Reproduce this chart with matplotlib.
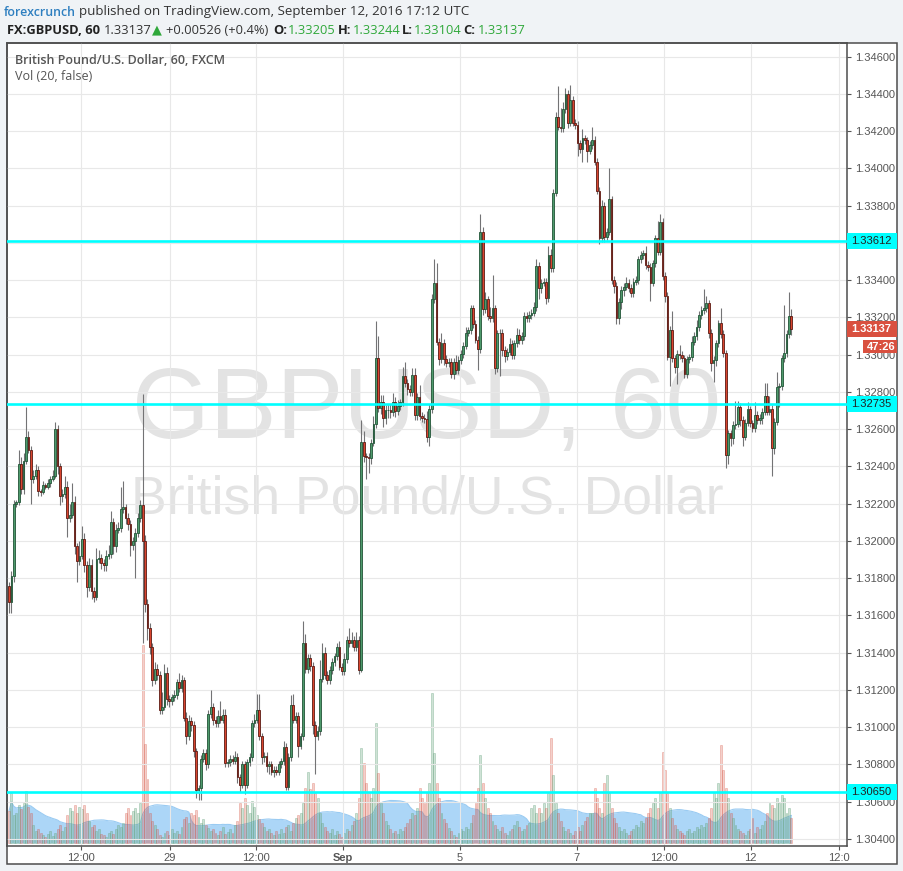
import numpy as np
import pandas as pd
import matplotlib
matplotlib.use("Agg")
import matplotlib.pyplot as plt
from matplotlib.patches import Rectangle
from matplotlib import transforms

W, H = 904, 871

# hourly GBPUSD candles, prices in pips above 1.30000
first_open = 176
close_pips = [
    167, 181, 220, 221, 241, 228, 243, 256, 249, 233,
    235, 238, 227, 226, 230, 229, 231, 233, 235, 260,
    240, 224, 225, 229, 212, 214, 221, 197, 189, 192,
    201, 187, 175, 187, 173, 170, 190, 191, 188, 187,
    192, 193, 210, 197, 206, 207, 217, 218, 212, 209,
    198, 200, 204, 212, 219, 200, 166, 153, 143, 125,
    131, 128, 109, 111, 129, 115, 114, 116, 117, 124,
    121, 125, 105, 95, 103.5, 101, 87, 66, 67, 83,
    86, 80, 107, 111, 104, 102, 106, 104, 106.5, 80.6,
    81, 83, 82, 84, 73, 69, 80, 69, 81, 84,
    102, 104, 109, 95, 84, 84.5, 79, 80, 76, 77,
    76, 80, 81.5, 89.5, 68, 84, 112, 104, 106, 90,
    95, 145, 131, 137, 133, 101, 95, 97.6, 126, 140,
    128, 125, 130.7, 135, 138, 143, 132.5, 130, 136.5, 147,
    145, 147, 143, 147, 130.7, 253, 245.3, 245, 244.4, 252.8,
    262.8, 298, 271.3, 274.3, 266, 270, 270.4, 269, 274.3, 269.5,
    272.5, 274.3, 288.3, 284.7, 281.5, 279.7, 289, 267.7, 277.5, 267,
    266, 265.5, 256, 270.7, 329.8, 338.4, 307, 297.6, 306.5, 297.6,
    295.4, 296, 289.7, 296, 291.8, 297, 300.4, 304.8, 311.8, 313,
    324.9, 316.5, 308, 302.8, 365.7, 324.3, 329.7, 320.7, 319.5, 324.9,
    292.6, 311.4, 311.8, 302.5, 299.3, 301.6, 305.7, 299.8, 306, 310.5,
    307.9, 310, 320.7, 319.5, 321.3, 322.5, 325.4, 347.6, 336, 338.6,
    339, 330.2, 353.5, 346.3, 387, 427.5, 422.5, 421.6, 431.8, 440,
    424.6, 436.8, 424.6, 423.4, 413.5, 410.3, 416.2, 415, 409.6, 412.6,
    415.3, 403.7, 388, 362.5, 380, 363.4, 366, 383.4, 340, 336.9,
    319.5, 328.5, 334.7, 336.5, 338.7, 335.8, 333, 339.2, 340, 351.2,
    353.5, 354.4, 348.2, 347, 338.7, 349, 362.5, 355.3, 371.4, 342.2,
    331.5, 298.9, 313.2, 298, 293.2, 300.3, 299.8, 298, 289.6, 297.5,
    298.6, 307, 310, 314.7, 321.3, 324, 325, 327.6, 311.8, 295.3,
    297.1, 306, 316.8, 311.1, 300.7, 246, 257.7, 255, 262.2, 263,
    272, 264.9, 256, 263.5, 270.6, 263.1, 260.4, 267.6, 264.9, 266,
    269.4, 277.8, 269.4, 271, 249.7, 264, 282.8, 283, 298, 300.7,
    311.1, 320.5, 313.7,
]
upper_wick = [
    2, 3, 2, 1, 8, 4, 4, 16, 3, 2,
    3, 3, 2, 1, 2, 1, 2, 2, 3, 4,
    2, 2, 3, 6, 3, 6, 10, 3, 2, 8,
    7, 3, 2, 4, 3, 2, 6, 4, 2, 2,
    3, 5, 6, 2, 3, 3, 12, 14, 2, 3,
    2, 2, 3, 3, 3, 60, 3, 3, 3, 2,
    4, 3, 2, 8, 5, 3, 2, 2, 3, 2,
    5, 3, 2, 3, 3, 2, 2, 2, 2, 2,
    2, 2, 2, 9, 2, 2, 3, 8, 3, 3,
    2, 2, 2, 3, 2, 2, 2, 2, 2, 2,
    2, 3, 9, 9, 2, 2, 2, 2, 2, 2,
    2, 2, 2, 3, 2, 2, 5, 6, 2, 2,
    2, 12, 5, 2, 2, 2, 2, 3, 10, 5,
    3, 2, 2, 2, 2, 2, 3, 2, 3, 2,
    6, 4, 2, 4, 2, 12, 6, 2, 2, 2,
    4, 20, 12, 4, 4, 3, 3, 3, 5, 3,
    3, 2, 5, 8, 2, 2, 4, 4, 2, 6,
    2, 2, 4, 3, 3, 13, 11, 2, 5, 2,
    2, 2, 2, 2, 4, 2, 2, 2, 3, 2,
    2, 2, 2, 2, 10, 3, 4, 2, 5, 18,
    2, 2, 2, 2, 2, 2, 3, 2, 2, 4,
    3, 2, 2, 2, 2, 2, 3, 4, 2, 2,
    2, 2, 5, 3, 2, 3, 17, 10, 4, 3,
    2, 8, 2, 2, 2, 2, 5, 2, 2, 2,
    7, 2, 2, 2, 3, 2, 2, 17, 2, 2,
    2, 2, 2, 2, 3, 2, 2, 2, 2, 2,
    2, 2, 4, 2, 2, 2, 2, 9, 4, 2,
    2, 2, 2, 10, 2, 2, 5, 2, 2, 2,
    2, 3, 2, 4, 2, 2, 10, 4, 2, 2,
    2, 2, 2, 8, 2, 2, 2, 2, 2, 12,
    3, 2, 2, 2, 4, 2, 2, 7, 2, 2,
    2, 7, 7, 7, 2, 2, 8, 2, 2, 26,
    2, 13, 4,
]
lower_wick = [
    6, 6, 3, 2, 2, 3, 3, 2, 2, 13,
    2, 2, 3, 2, 1, 1, 1, 2, 1, 1,
    4, 5, 3, 2, 10, 2, 2, 4, 11, 2,
    2, 4, 5, 2, 4, 3, 2, 2, 3, 3,
    3, 2, 2, 4, 3, 2, 2, 2, 3, 3,
    6, 3, 20, 2, 2, 55, 4, 6, 4, 3,
    2, 3, 2, 2, 2, 3, 3, 2, 2, 2,
    2, 2, 2, 4, 2, 3, 3, 4, 5, 6,
    2, 3, 2, 2, 3, 2, 2, 2, 2, 2,
    2, 2, 2, 2, 3, 4, 2, 5, 2, 2,
    2, 2, 2, 2, 4, 3, 3, 4, 2, 3,
    2, 2, 2, 2, 2, 2, 2, 2, 2, 6,
    2, 2, 2, 2, 3, 5, 20, 2, 2, 2,
    2, 2, 2, 2, 2, 2, 2, 2, 2, 2,
    2, 2, 2, 2, 2, 1, 3, 12, 8, 3,
    2, 2, 2, 3, 5, 3, 4, 3, 2, 3,
    2, 2, 2, 2, 3, 2, 2, 3, 3, 2,
    2, 2, 3, 5, 2, 2, 2, 3, 2, 3,
    2, 2, 2, 3, 2, 2, 2, 2, 2, 2,
    2, 2, 2, 11, 2, 3, 2, 2, 2, 2,
    3, 2, 23, 3, 3, 2, 2, 2, 2, 2,
    2, 2, 2, 2, 2, 2, 2, 2, 6, 3,
    2, 3, 2, 2, 2, 2, 2, 2, 2, 2,
    3, 2, 2, 2, 7, 2, 7, 2, 6, 2,
    2, 2, 2, 3, 2, 3, 2, 2, 2, 4,
    3, 3, 4, 3, 2, 2, 2, 2, 2, 2,
    2, 2, 2, 2, 10, 2, 2, 2, 2, 2,
    3, 2, 16, 2, 3, 9, 2, 2, 2, 2,
    2, 2, 2, 2, 2, 2, 2, 2, 3, 4,
    10, 3, 2, 2, 2, 7, 5, 4, 3, 2,
    2, 3, 5, 2, 2, 2, 2, 2, 2, 2,
    3, 2, 2, 2, 15, 3, 2, 11, 2, 2,
    2, 2, 3,
]
volume = [
    32, 50, 28, 30, 38, 34, 40, 52, 36, 30,
    18, 12, 14, 10, 8, 6, 9, 12, 7, 10,
    14, 18, 12, 16, 28, 35, 32, 38, 30, 36,
    34, 38, 30, 22, 16, 18, 12, 14, 9, 8,
    6, 10, 12, 9, 14, 18, 16, 20, 30, 35,
    28, 32, 35, 30, 40, 198, 99, 64, 30, 22,
    18, 14, 8, 6, 10, 12, 8, 14, 10, 12,
    9, 16, 24, 26, 20, 30, 28, 33, 26, 20,
    24, 18, 15, 12, 14, 10, 8, 12, 16, 9,
    11, 14, 10, 18, 22, 40, 35, 45, 38, 30,
    42, 36, 28, 24, 20, 16, 12, 14, 10, 8,
    12, 9, 14, 10, 16, 18, 12, 20, 25, 28,
    30, 40, 55, 71, 54, 60, 50, 45, 30, 20,
    16, 12, 10, 14, 8, 12, 9, 6, 10, 14,
    12, 18, 22, 30, 45, 95, 80, 60, 50, 45,
    55, 120, 70, 40, 30, 22, 18, 14, 10, 12,
    9, 14, 12, 16, 20, 24, 30, 28, 35, 55,
    45, 40, 50, 60, 150, 90, 60, 45, 30, 24,
    20, 15, 12, 8, 6, 10, 14, 12, 16, 14,
    20, 28, 40, 55, 88, 60, 45, 35, 30, 22,
    18, 14, 12, 16, 10, 8, 12, 14, 18, 22,
    16, 12, 14, 18, 20, 35, 38, 30, 35, 30,
    40, 35, 50, 105, 68, 40, 30, 22, 16, 12,
    14, 10, 8, 12, 16, 12, 18, 22, 26, 30,
    30, 55, 45, 35, 30, 60, 68, 50, 35, 25,
    20, 16, 12, 14, 10, 8, 12, 14, 18, 16,
    22, 20, 25, 30, 35, 40, 45, 35, 50, 91,
    73, 50, 35, 25, 18, 14, 12, 10, 8, 12,
    14, 10, 12, 16, 14, 18, 16, 20, 25, 35,
    50, 45, 60, 98, 73, 55, 45, 30, 25, 18,
    14, 12, 10, 8, 12, 14, 25, 10, 16, 14,
    18, 22, 30, 40, 38, 35, 45, 40, 48, 45,
    30, 35, 25,
]

levels = [1.33612, 1.32735, 1.30650]
last_price = 1.33137
countdown = "47:26"
tick_pos = [29.6, 66.3, 101.6, 137.4, 185.6, 233.7, 269.5, 305.3, 341.6]
tick_lab = ["12:00", "29", "12:00", "Sep", "5", "7", "12:00", "12", "12:0"]

# ---- build OHLC
c_p = np.array(close_pips, dtype=float)
o_p = np.r_[first_open, c_p[:-1]]
hi_p = np.maximum(o_p, c_p) + np.array(upper_wick)
lo_p = np.minimum(o_p, c_p) - np.array(lower_wick)
opens, closes = 1.3 + o_p / 1e4, 1.3 + c_p / 1e4
highs, lows = 1.3 + hi_p / 1e4, 1.3 + lo_p / 1e4
x = np.arange(len(closes))
up = closes >= opens

# ---- figure
fig = plt.figure(figsize=(W / 100, H / 100), dpi=100, facecolor="#f0f3f6")
def fx(px): return px / W
def fy(py): return 1 - py / H

fig.patches.append(Rectangle((fx(7), fy(864)), (897 - 7) / W, (864 - 43) / H,
                             transform=fig.transFigure, facecolor="white",
                             edgecolor="#4d4d4d", lw=1.1, zorder=0))

ax = fig.add_axes([fx(7), fy(846), (847 - 7) / W, (846 - 43) / H])
vax = ax.twinx()
ax.set_zorder(2)
vax.set_zorder(1)
ax.patch.set_visible(False)
vax.patch.set_facecolor("white")

ytop = 1.346 + 13.7 / 18620
ybot = 1.346 - (846 - 56.7) / 18620
ax.set_xlim(-0.82, 344.9)
ax.set_ylim(ybot, ytop)

# volume + MA(20)
vol = np.array(volume, dtype=float)
ma = pd.Series(vol).rolling(20, min_periods=1).mean()
vax.fill_between(x, 0, ma, color="#acd6f7", lw=0, zorder=1)
vax.plot(x, ma, color="#9acbf2", lw=0.8, zorder=1)
vax.bar(x, vol, width=0.8,
        color=[(0.42, 0.65, 0.51, 0.32) if u else (0.84, 0.33, 0.26, 0.27) for u in up],
        edgecolor=[(0.42, 0.65, 0.51, 0.5) if u else (0.84, 0.33, 0.26, 0.4) for u in up],
        linewidth=0.5, zorder=2)
vax.set_ylim(-3, 800)
vax.set_yticks([])
for s in vax.spines.values():
    s.set_visible(False)

# watermark
ax.text(0.5, (846 - 412) / 803, "GBPUSD, 60", transform=ax.transAxes, ha="center", va="center",
        fontsize=72, color="#e3e3e3", family="Liberation Sans", zorder=0.5)
ax.text(0.5, (846 - 500) / 803, "British Pound/U.S. Dollar", transform=ax.transAxes, ha="center",
        va="center", fontsize=38.5, color="#e3e3e3", family="Liberation Sans", zorder=0.5)

# candles
ax.vlines(x, lows, highs, color="#737375", lw=0.8, zorder=3)
body_lo = np.minimum(opens, closes)
body_h = np.maximum(np.abs(closes - opens), 0.00004)
ax.bar(x, body_h, bottom=body_lo, width=0.72,
       color=np.where(up, "#4e9a6c", "#d9452f"),
       edgecolor=np.where(up, "#225437", "#5b1a13"), linewidth=0.6, zorder=4)

# horizontal levels
for lv in levels:
    ax.axhline(lv, color="#00ffff", lw=1.9, zorder=5)

# axes styling
yt = np.round(np.arange(1.304, 1.3461, 0.002), 3)
ax.yaxis.tick_right()
ax.set_yticks(yt)
# the 1.33600 label sits fully under the 1.33612 level box
ax.set_yticklabels(["" if abs(v - 1.336) < 1e-6 else f"{v:.5f}" for v in yt])
ax.set_xticks(tick_pos)
ax.set_xticklabels(tick_lab)
ax.tick_params(axis="y", right=True, left=False, length=3, width=0.8, color="#555555",
               labelsize=8, labelcolor="#555555", pad=3)
ax.tick_params(axis="x", length=3, width=0.8, color="#555555", labelsize=8,
               labelcolor="#555555", pad=2)
for lab in ax.get_xticklabels() + ax.get_yticklabels():
    lab.set_family("Liberation Sans")
ax.get_xticklabels()[3].set_fontweight("bold")
ax.grid(True, color="#e8e8e8", lw=0.8, zorder=0)
ax.set_axisbelow(True)
for s in ax.spines.values():
    s.set_color("#4d4d4d")
    s.set_linewidth(1.1)

# price-axis labels
bt = transforms.blended_transform_factory(ax.transAxes, ax.transData)
ppx = (ytop - ybot) / 803
ax_w = 840.0
def axis_box(price, text, fc, tc, x0=847, h=16, weight="normal", dy=0):
    yc = price - dy * ppx
    ax.add_patch(Rectangle(((x0 - 7) / ax_w, yc - h / 2 * ppx), (897 - x0) / ax_w, h * ppx,
                           transform=bt, facecolor=fc, edgecolor="none", clip_on=False, zorder=6))
    ax.text((x0 - 7 + 4) / ax_w, yc, text, transform=bt, ha="left", va="center", fontsize=8,
            color=tc, weight=weight, family="Liberation Sans", clip_on=False, zorder=7)

for lv in levels:
    axis_box(lv, f"{lv:.5f}", "#00ffff", "#222222")
axis_box(last_price, f"{last_price:.5f}", "#d9503f", "white", weight="bold")
axis_box(last_price, countdown, "#d9503f", "white", x0=863, h=13, weight="bold", dy=17.5)

# header
hf = ["Open Sans", "DejaVu Sans"]
fig.text(fx(4), fy(12), "forexcrunch", color="#2e7fc0", fontsize=8.9, weight="semibold",
         family=hf, va="center")
fig.text(fx(79), fy(12), "published on TradingView.com, September 12, 2016 17:12 UTC",
         color="#333333", fontsize=9.6, family=hf, va="center")
parts = [
    (7, "FX:GBPUSD, 60", "#222222", "bold"),
    (104, "1.33137", "#333333", "normal"),
    (152, "\u25b2", "#2fa83a", "normal"),
    (166, "+0.00526 (+0.4%)", "#333333", "normal"),
    (273, "O:", "#222222", "bold"),
    (288, "1.33205", "#2fa83a", "normal"),
    (338, "H:", "#222222", "bold"),
    (353, "1.33244", "#2fa83a", "normal"),
    (402, "L:", "#222222", "bold"),
    (414, "1.33104", "#2fa83a", "normal"),
    (463, "C:", "#222222", "bold"),
    (478, "1.33137", "#2fa83a", "normal"),
]
for px, t, col, wt in parts:
    fig.text(fx(px), fy(30), t, color=col, fontsize=9.3, weight=wt, family=hf, va="center")

fig.text(fx(15), fy(60), "British Pound/U.S. Dollar, 60, FXCM", color="#555555", fontsize=9,
         weight="semibold", family=hf, va="center")
fig.text(fx(15), fy(77), "Vol (20, false)", color="#555555", fontsize=9, family=hf, va="center")

fig.savefig("out.png", dpi=100, facecolor=fig.get_facecolor())
